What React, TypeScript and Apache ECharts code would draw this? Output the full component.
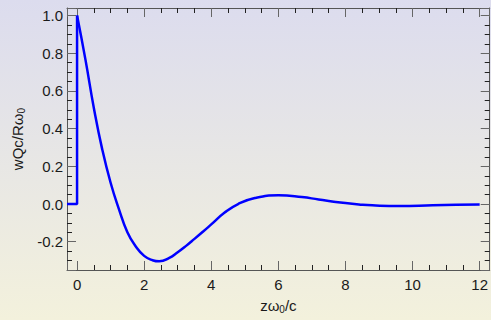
import React, { useEffect, useRef } from "react";
import * as echarts from "echarts";

const stepPart: [number, number][] = [
  [-0.3, 0],
  [0, 0],
  [0, 1],
];

const wakeZ = [0, 0.25, 0.5, 0.75, 1.0, 1.25, 1.5, 1.75, 2.0, 2.25, 2.45, 2.75, 3.0, 3.25, 3.5, 3.75, 4.0, 4.4, 4.8, 5.3, 6.0, 6.7, 7.2, 7.6, 8.0, 8.4, 8.8, 9.6, 10.6, 11.3, 12.0];
const wakeV = [1.0, 0.766, 0.51, 0.29, 0.113, -0.028, -0.15, -0.225, -0.275, -0.298, -0.304, -0.286, -0.256, -0.222, -0.185, -0.147, -0.108, -0.045, 0.0, 0.032, 0.046, 0.037, 0.024, 0.014, 0.005, -0.002, -0.007, -0.011, -0.007, -0.004, -0.002];

const FONT = "Liberation Sans";

export default function App() {
  const ref = useRef<HTMLDivElement>(null);
  useEffect(() => {
    document.body.style.margin = "0";
    if (!ref.current) return;
    const chart = echarts.init(ref.current, null, { renderer: "svg" });
    const xFmt = (v: number) => {
      const r = Math.round(v / 2) * 2;
      return Math.abs(v - r) < 1e-6 ? String(r) : "";
    };
    const yFmt = (v: number) => {
      const r = Math.round(v / 0.2) * 0.2;
      return Math.abs(v - r) < 1e-6 ? (Math.abs(r) < 1e-9 ? "0.0" : r.toFixed(1)) : "";
    };
    const rich = () => ({
      a: { fontSize: 15, fontFamily: FONT, color: "#1a1a1a", lineHeight: 18 },
      s: { fontSize: 10, fontFamily: FONT, color: "#1a1a1a", lineHeight: 10, verticalAlign: "bottom" },
    });
    const axisLine = () => ({ show: true, onZero: false, lineStyle: { color: "#555", width: 1 } });
    const tick = () => ({ show: true, inside: true, length: 9, lineStyle: { color: "#666", width: 1 } });
    const minor = () => ({ show: true, splitNumber: 4, length: 5, lineStyle: { color: "#222", width: 1 } });
    const labelStyle = { fontFamily: FONT, fontSize: 15, color: "#1a1a1a" };
    chart.setOption({
      animation: false,
      backgroundColor: new echarts.graphic.LinearGradient(0, 0, 0, 1, [
        { offset: 0, color: "#dcdcee" },
        { offset: 1, color: "#f3f1dc" },
      ]),
      grid: { left: 67, top: 8, width: 424, height: 262, containLabel: false },
      xAxis: [
        {
          type: "value", min: -0.3, max: 12.3, splitNumber: 6, splitLine: { show: false },
          axisLine: axisLine(), axisTick: tick(), minorTick: minor(),
          position: "bottom",
          axisLabel: { ...labelStyle, margin: 7, formatter: xFmt, showMinLabel: false, showMaxLabel: false },
          name: "{a|zω}{s|0}{a|/c}",
          nameLocation: "middle",
          nameGap: 26,
          nameTextStyle: { rich: rich() },
        },
        {
          type: "value", min: -0.3, max: 12.3, splitNumber: 6, splitLine: { show: false },
          axisLine: axisLine(), axisTick: tick(), minorTick: minor(),
          position: "top", axisLabel: { show: false },
        },
      ],
      yAxis: [
        {
          type: "value", min: -0.35, max: 1.04, splitNumber: 7, splitLine: { show: false },
          axisLine: axisLine(), axisTick: tick(), minorTick: minor(),
          position: "left",
          axisLabel: { ...labelStyle, margin: 4, formatter: yFmt, showMinLabel: false, showMaxLabel: false },
          name: "{a|wQc/Rω}{s|0}",
          nameLocation: "middle",
          nameGap: 41,
          nameTextStyle: { rich: rich() },
        },
        {
          type: "value", min: -0.35, max: 1.04, splitNumber: 7, splitLine: { show: false },
          axisLine: axisLine(), axisTick: tick(), minorTick: minor(),
          position: "right", axisLabel: { show: false },
        },
      ],
      series: [
        {
          type: "line",
          data: stepPart,
          showSymbol: false,
          lineStyle: { color: "#0000ff", width: 2.5 },
          itemStyle: { color: "#0000ff" },
        },
        {
          type: "line",
          data: wakeZ.map((z, i) => [z, wakeV[i]]),
          smooth: 0.5,
          showSymbol: false,
          lineStyle: { color: "#0000ff", width: 2.5 },
          itemStyle: { color: "#0000ff" },
        },
      ],
    });
    return () => chart.dispose();
  }, []);
  return <div ref={ref} style={{ width: 491, height: 320 }} />;
}
